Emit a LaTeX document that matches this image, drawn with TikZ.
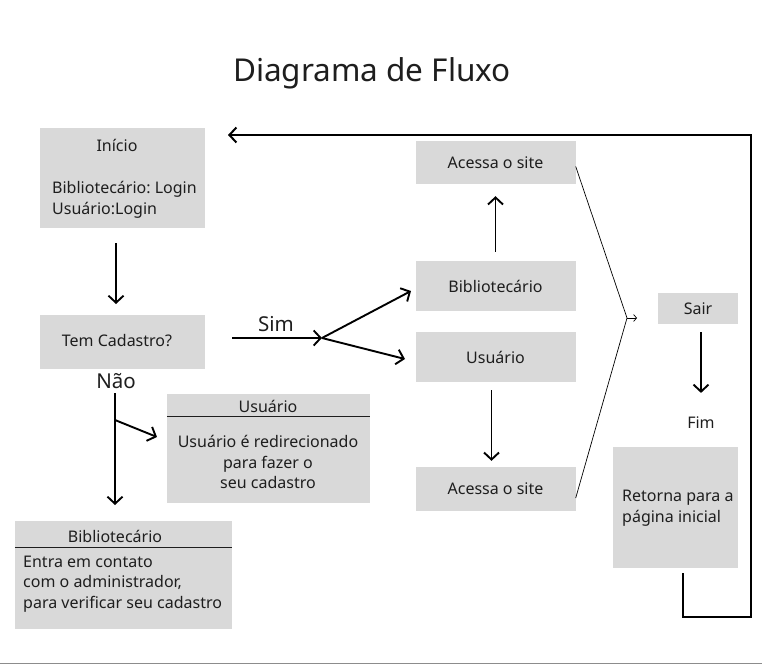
\documentclass[tikz,border=0pt]{standalone}
\usepackage{fontspec}
\setmainfont{Noto Sans}
\usetikzlibrary{arrows.meta}
\frenchspacing

\definecolor{boxgray}{HTML}{D9D9D9}
\definecolor{ink}{HTML}{1E1E1E}

\tikzset{
  box/.style={fill=boxgray, draw=none, inner sep=0pt},
  txt/.style={font=\fontsize{16}{20.5}\selectfont, text=ink, inner sep=0pt},
  big/.style={font=\fontsize{20.5}{24}\selectfont, text=ink, inner sep=0pt},
  arr/.style={line width=1.9pt, -{Straight Barb[length=7pt, width=15pt, line width=1.9pt]}},
  thinarr/.style={line width=0.7pt, -{Straight Barb[length=3pt, width=7pt, line width=0.7pt]}},
  rule/.style={line width=0.9pt, ink}
}

\begin{document}
\begin{tikzpicture}[x=1pt, y=-1pt]
  \useasboundingbox (0,0) rectangle (762,664);

  % Title
  \node[font=\fontsize{31.5}{36}\selectfont, text=ink] (title) at (372,73) {Diagrama de Fluxo};

  % Left column
  \node[box, minimum width=165pt, minimum height=100pt] (inicio) at (122.5,178) {};
  \node[txt] (iniciot) at (117,145) {Início};
  \node[txt, anchor=west, align=left] (logins) at (52,200) {Bibliotecário: Login\\Usuário:Login};

  \node[box, minimum width=165pt, minimum height=54pt] (tem) at (122.5,342) {};
  \node[txt] (temt) at (117,341) {Tem Cadastro?};

  \node[big] (nao) at (116,381) {Não};

  % Usuario (no cadastro)
  \node[box, minimum width=203pt, minimum height=109pt] (usu2) at (268.5,448.5) {};
  \draw[rule] (usu2.west |- 0,416) -- (usu2.east |- 0,416);
  \node[txt] (usu2h) at (268,406) {Usuário};
  \node[txt, align=center] (usu2t) at (268,462) {Usuário é redirecionado\\para fazer o\\seu cadastro};

  % Bibliotecario (no cadastro)
  \node[box, minimum width=217pt, minimum height=108pt] (bib2) at (123.5,575) {};
  \draw[rule] (bib2.west |- 0,547) -- (bib2.east |- 0,547);
  \node[txt] (bib2h) at (115,536) {Bibliotecário};
  \node[txt, anchor=west, align=left] (bib2t) at (23,584) {Entra em contato\\com o administrador,\\para verificar seu cadastro};

  % Middle column
  \node[box, minimum width=160pt, minimum height=43pt] (acesso1) at (495.5,162.5) {};
  \node[txt] at (acesso1) {Acessa o site};
  \node[box, minimum width=160pt, minimum height=50pt] (bib) at (495.5,286) {};
  \node[txt] at (bib) {Bibliotecário};
  \node[box, minimum width=160pt, minimum height=50pt] (usu) at (495.5,357) {};
  \node[txt] at (usu) {Usuário};
  \node[box, minimum width=160pt, minimum height=44pt] (acesso2) at (495.5,489) {};
  \node[txt] at (acesso2) {Acessa o site};

  % Right column
  \node[box, minimum width=80pt, minimum height=31pt] (sair) at (698,308.5) {};
  \node[txt] at (sair) {Sair};
  \node[txt] (fim) at (701,423) {Fim};
  \node[box, minimum width=125pt, minimum height=121pt] (retorna) at (675.5,507.5) {};
  \node[txt, anchor=west, align=left] (retornat) at (622,508) {Retorna para a\\página inicial};

  % Connector end points
  \coordinate (temin) at (116,243);
  \coordinate (temout) at (116,304);
  \coordinate (simstart) at (232,338);
  \coordinate (simj) at (322,338);
  \coordinate (naotop) at (115,393);
  \coordinate (naoj) at (115,420);
  \coordinate (naobot) at (115,505);
  \coordinate (saij) at (627,318);
  \coordinate (loopstart) at (683,573);

  % Connectors
  \draw[arr] (temin) -- (temout);
  \draw[arr] (simstart) -- (simj);
  \node[big] (simt) at (276,324) {Sim};
  \draw[arr] (simj) -- (411,291);
  \draw[arr] (simj) -- (405,359);

  \draw[arr, shorten <=9pt, shorten >=12pt] (bib.north) -- (acesso1.south);
  \draw[arr, shorten <=8pt, shorten >=6pt] ([xshift=-4pt]usu.south) -- ([xshift=-4pt]acesso2.north);

  \draw[arr] (naotop) -- (naobot);
  \draw[arr] (naoj) -- (157,437);

  \draw[line width=0.7pt] ([yshift=-4pt]acesso1.east) -- (saij);
  \draw[line width=0.7pt] ([yshift=-9pt]acesso2.east) -- (saij);
  \draw[thinarr] (saij) -- ++(10,0);

  \draw[arr, shorten <=8pt, shorten >=24pt] ([xshift=3pt]sair.south) -- (fim.north);

  % Return loop
  \draw[line width=2.4pt, -{Straight Barb[length=7pt, width=15pt, line width=2pt]}]
    (loopstart) -- ++(0,44) -| (751,135) -- (228,135);

  % Bottom rule
  \draw[line width=1pt, black!45] (0,663.5) -- (762,663.5);
\end{tikzpicture}
\end{document}
